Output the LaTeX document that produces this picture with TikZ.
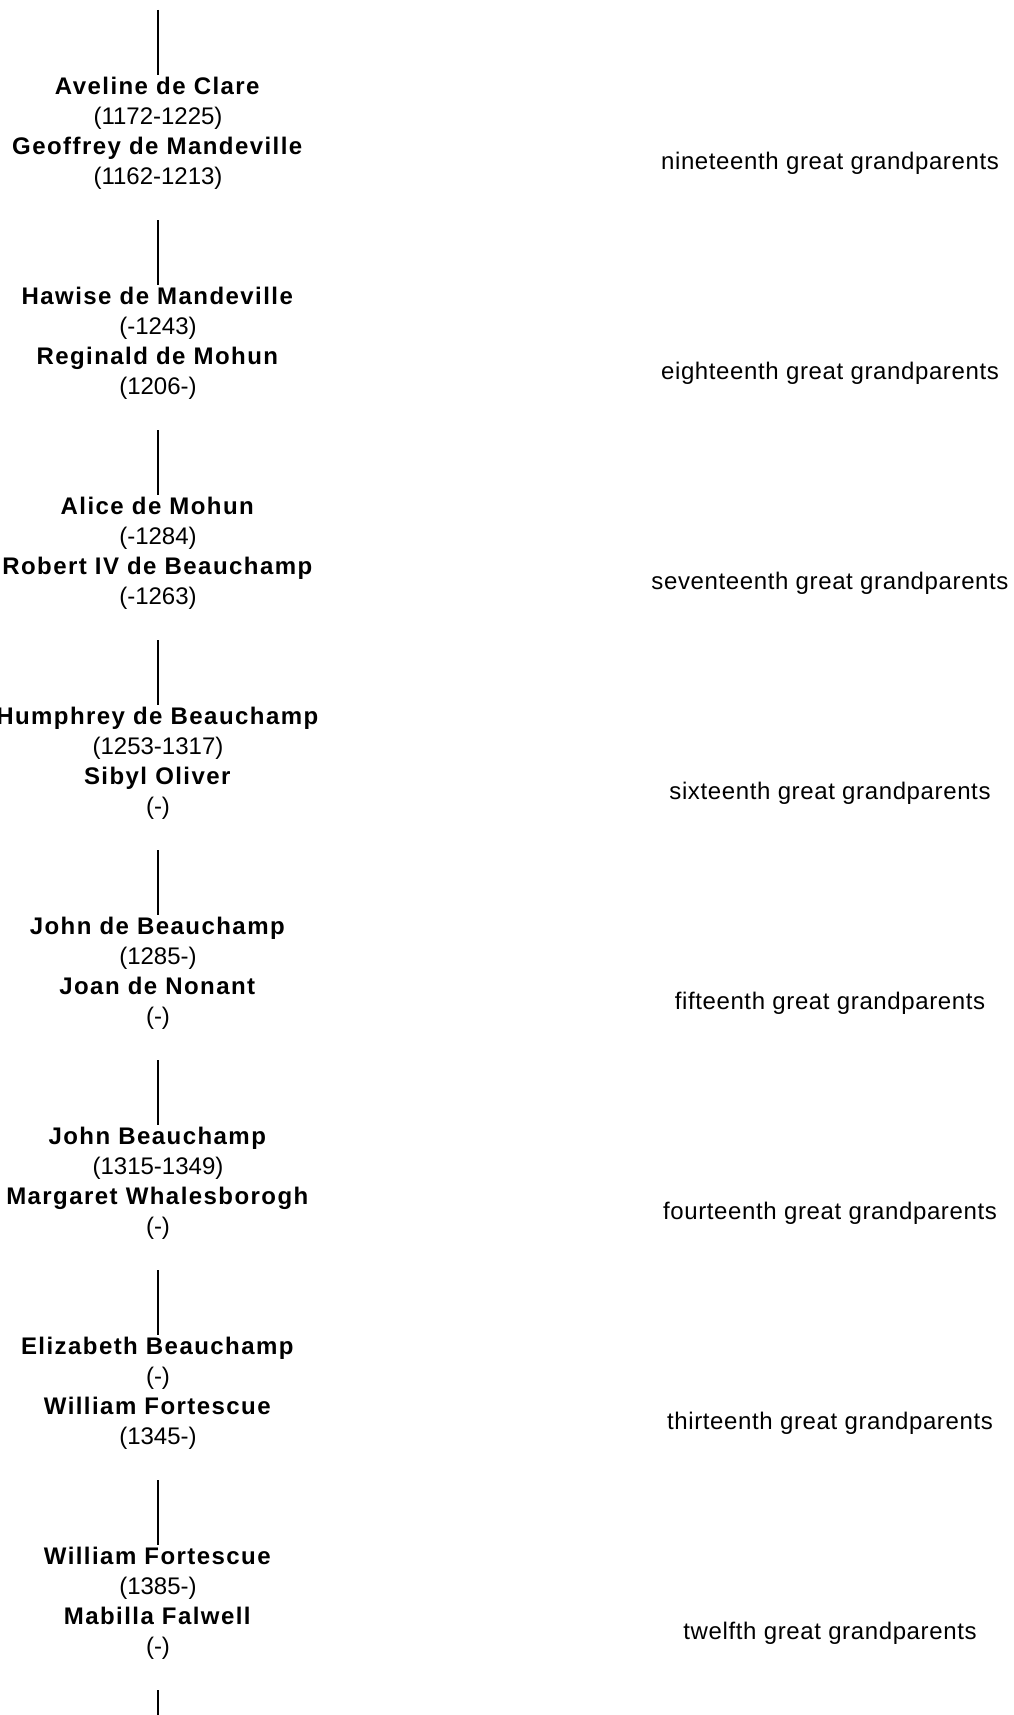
\documentclass[tikz,border=0pt]{standalone}
\usepackage{fontspec}
\setmainfont{Liberation Sans}[BoldFeatures={LetterSpace=6}]
\newfontfamily\labfont{Liberation Sans}[LetterSpace=2.6]
\newcommand\gblock[4]{\begin{tabular}[t]{@{}c@{}}\textbf{#1}\\(#2)\\\textbf{#3}\\(#4)\end{tabular}}
\begin{document}
\begin{tikzpicture}[x=1pt,y=-1pt,
  gen/.style={anchor=base, inner sep=0pt, font=\fontsize{24}{30}\selectfont},
  lab/.style={anchor=base, inner sep=0pt, font=\labfont\fontsize{24}{30}\selectfont},
  link/.style={line width=1.6pt}]
\useasboundingbox (0,0) rectangle (1013,1715);
\node[gen] (g0) at (158,94.7) {\gblock{Aveline de Clare}{1172-1225}{Geoffrey de Mandeville}{1162-1213}};
\node[gen] (g1) at (158,304.7) {\gblock{Hawise de Mandeville}{-1243}{Reginald de Mohun}{1206-}};
\node[gen] (g2) at (158,514.7) {\gblock{Alice de Mohun}{-1284}{Robert IV de Beauchamp}{-1263}};
\node[gen] (g3) at (158,724.7) {\gblock{Humphrey de Beauchamp}{1253-1317}{Sibyl Oliver}{-}};
\node[gen] (g4) at (158,934.7) {\gblock{John de Beauchamp}{1285-}{Joan de Nonant}{-}};
\node[gen] (g5) at (158,1144.7) {\gblock{John Beauchamp}{1315-1349}{Margaret Whalesborogh}{-}};
\node[gen] (g6) at (158,1354.7) {\gblock{Elizabeth Beauchamp}{-}{William Fortescue}{1345-}};
\node[gen] (g7) at (158,1564.7) {\gblock{William Fortescue}{1385-}{Mabilla Falwell}{-}};
\node[lab] (l0) at (830,169.5) {nineteenth great grandparents};
\node[lab] (l1) at (830,379.5) {eighteenth great grandparents};
\node[lab] (l2) at (830,589.5) {seventeenth great grandparents};
\node[lab] (l3) at (830,799.5) {sixteenth great grandparents};
\node[lab] (l4) at (830,1009.5) {fifteenth great grandparents};
\node[lab] (l5) at (830,1219.5) {fourteenth great grandparents};
\node[lab] (l6) at (830,1429.5) {thirteenth great grandparents};
\node[lab] (l7) at (830,1639.5) {twelfth great grandparents};
\coordinate (top) at (158,10);
\coordinate (bot) at (158,1720);
\draw[link, shorten >=-1.7pt] (top) -- (g0.north);
\foreach \a/\b in {g0/g1,g1/g2,g2/g3,g3/g4,g4/g5,g5/g6,g6/g7}
  \draw[link, shorten <=26.3pt, shorten >=-1.7pt] (\a.south) -- (\b.north);
\draw[link, shorten <=26.3pt] (g7.south) -- (bot);
\end{tikzpicture}
\end{document}
